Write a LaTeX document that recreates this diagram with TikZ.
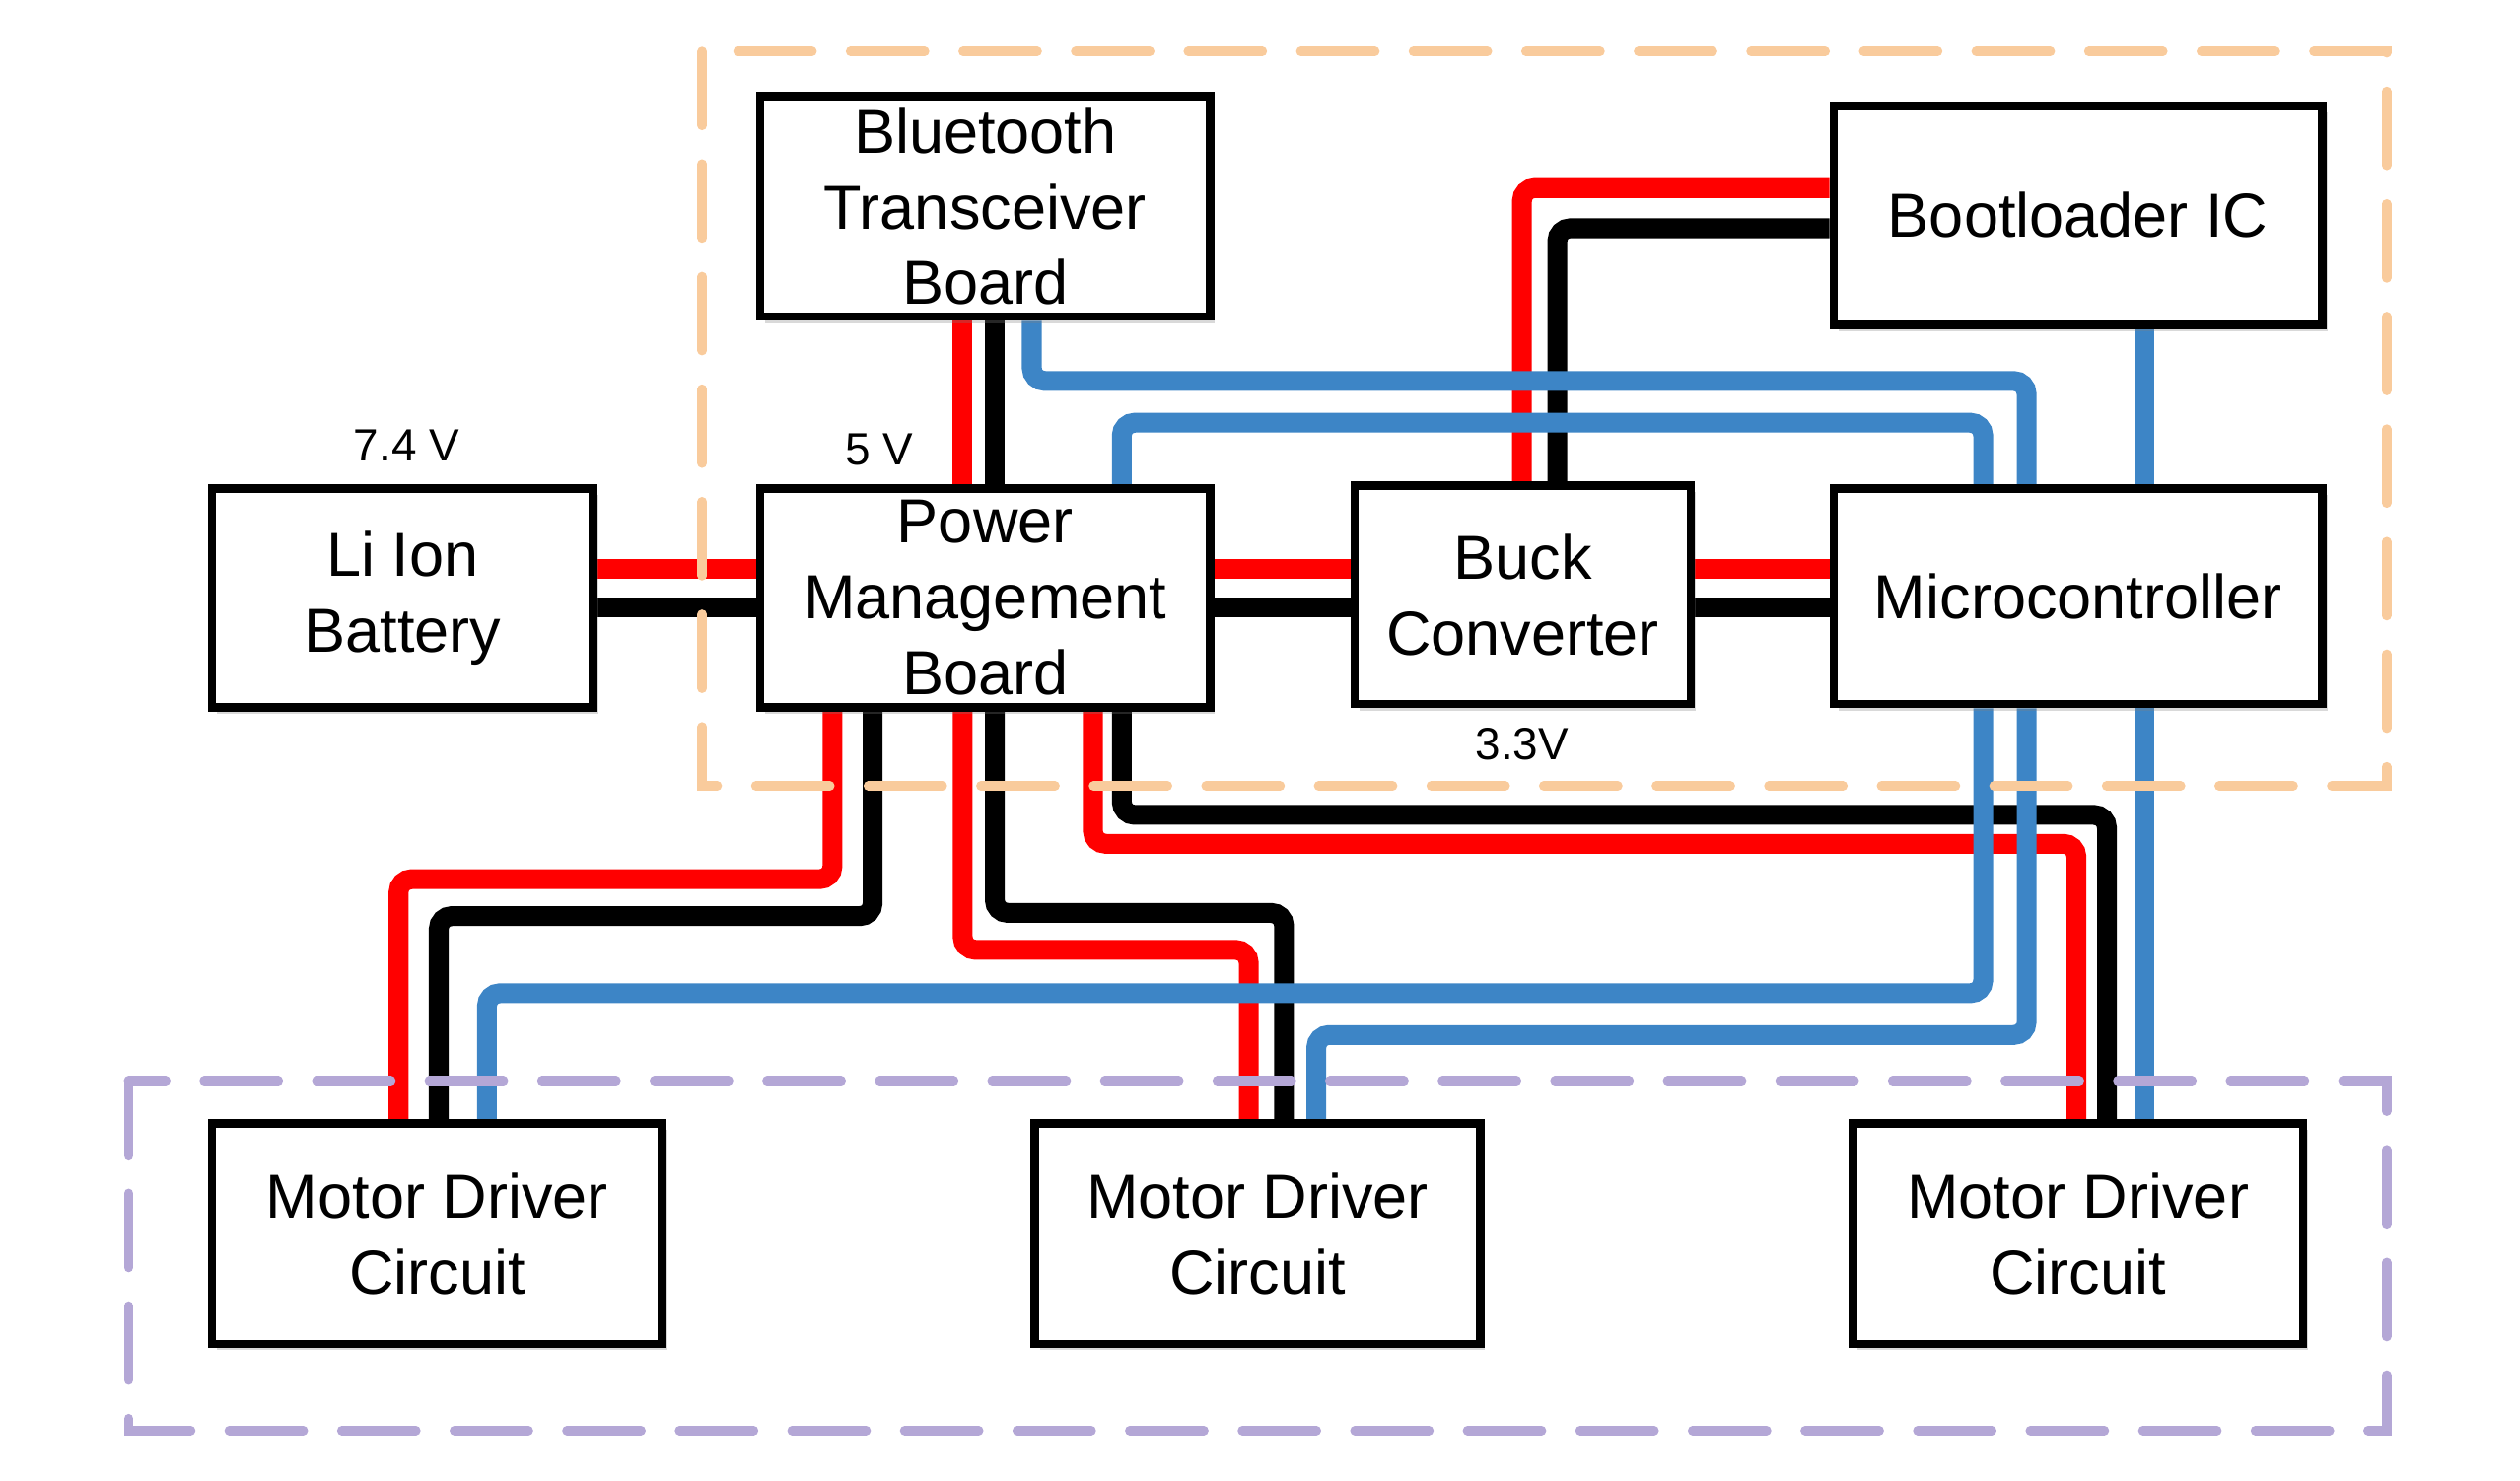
\documentclass[tikz,border=0pt]{standalone}
\usepackage{fontspec}
\setmainfont{Liberation Sans}
\usetikzlibrary{shadows}
\definecolor{wireblue}{RGB}{61,133,198}
\definecolor{grouporange}{RGB}{249,203,156}
\definecolor{grouppurple}{RGB}{180,167,214}
\pgfdeclarelayer{wires}
\pgfsetlayers{wires,main}
\tikzset{
	block/.style = {draw, line width = 1.5pt, fill = white, align = center, inner sep = 0pt, font = \fontsize{11}{13.4}\selectfont, drop shadow = {shadow xshift = 0.03cm, shadow yshift = -0.04cm, opacity = 0.3}},
	volt/.style = {font = \fontsize{8}{10}\selectfont},
	redwire/.style = {line width = 3.5pt, red, rounded corners = 0.08cm},
	blackwire/.style = {line width = 3.5pt, black, rounded corners = 0.08cm},
	bluewire/.style = {line width = 3.5pt, wireblue, rounded corners = 0.08cm},
	group/.style = {line width = 1.7pt, line cap = round, dash pattern = on 0.46cm off 0.24cm}
}
\begin{document}
\begin{tikzpicture}[x = 0.01cm, y = -0.01cm]
	\useasboundingbox (0,0) rectangle (1568,921);
	\node[block, minimum width = 2.8cm, minimum height = 1.37cm] (bt) at (613,128.5) {Bluetooth\\Transceiver\\Board};
	\node[block, minimum width = 3.04cm, minimum height = 1.36cm] (boot) at (1293,134) {Bootloader IC};
	\node[block, minimum width = 2.37cm, minimum height = 1.36cm] (bat) at (250.5,372) {Li Ion\\Battery};
	\node[block, minimum width = 2.8cm, minimum height = 1.36cm] (pmb) at (613,372) {Power\\Management\\Board};
	\node[block, minimum width = 2.09cm, minimum height = 1.36cm] (buck) at (947.5,370) {Buck\\Converter};
	\node[block, minimum width = 3.04cm, minimum height = 1.34cm] (mcu) at (1293,371) {Microcontroller};
	\node[block, minimum width = 2.8cm, minimum height = 1.37cm] (md1) at (272,767.5) {Motor Driver\\Circuit};
	\node[block, minimum width = 2.77cm, minimum height = 1.37cm] (md2) at (782.5,767.5) {Motor Driver\\Circuit};
	\node[block, minimum width = 2.8cm, minimum height = 1.37cm] (md3) at (1293,767.5) {Motor Driver\\Circuit};
	\node[volt] (v74) at (253,277) {7.4 V};
	\node[volt] (v5) at (547,280) {5 V};
	\node[volt] (v33) at (947,463) {3.3V};
	\begin{pgfonlayer}{wires}
		\draw[redwire] (bat.east |- 0,354) -- (pmb.west |- 0,354);
		\draw[blackwire] (bat.east |- 0,378) -- (pmb.west |- 0,378);
		\draw[redwire] (pmb.east |- 0,354) -- (buck.west |- 0,354);
		\draw[blackwire] (pmb.east |- 0,378) -- (buck.west |- 0,378);
		\draw[redwire] (buck.east |- 0,354) -- (mcu.west |- 0,354);
		\draw[blackwire] (buck.east |- 0,378) -- (mcu.west |- 0,378);
		\draw[redwire] (bt.south -| 599,0) -- (pmb.north -| 599,0);
		\draw[blackwire] (bt.south -| 619,0) -- (pmb.north -| 619,0);
		\draw[redwire] (buck.north -| 947,0) |- (boot.west |- 0,117);
		\draw[blackwire] (buck.north -| 969,0) |- (boot.west |- 0,142);
		\draw[redwire] (pmb.south -| 518,0) |- (248,547) -- (md1.north -| 248,0);
		\draw[blackwire] (pmb.south -| 543,0) |- (273,570) -- (md1.north -| 273,0);
		\draw[redwire] (pmb.south -| 599,0) |- (777,591) -- (md2.north -| 777,0);
		\draw[blackwire] (pmb.south -| 619,0) |- (799,568) -- (md2.north -| 799,0);
		\draw[redwire] (pmb.south -| 680,0) |- (1292,525) -- (md3.north -| 1292,0);
		\draw[blackwire] (pmb.south -| 698,0) |- (1311,507) -- (md3.north -| 1311,0);
		\draw[bluewire] (bt.south -| 642,0) |- (1261,237) -- (mcu.north -| 1261,0);
		\draw[bluewire] (pmb.north -| 698,0) |- (1234,263) -- (mcu.north -| 1234,0);
		\draw[bluewire] (boot.south -| 1334,0) -- (mcu.north -| 1334,0);
		\draw[bluewire] (mcu.south -| 1234,0) |- (303,618) -- (md1.north -| 303,0);
		\draw[bluewire] (mcu.south -| 1261,0) |- (819,644) -- (md2.north -| 819,0);
		\draw[bluewire] (mcu.south -| 1334,0) -- (md3.north -| 1334,0);
	\end{pgfonlayer}
	\draw[group, grouporange] (437,32) rectangle (1485,489);
	\draw[group, grouppurple] (80,672.5) rectangle (1485,890);
\end{tikzpicture}
\end{document}
